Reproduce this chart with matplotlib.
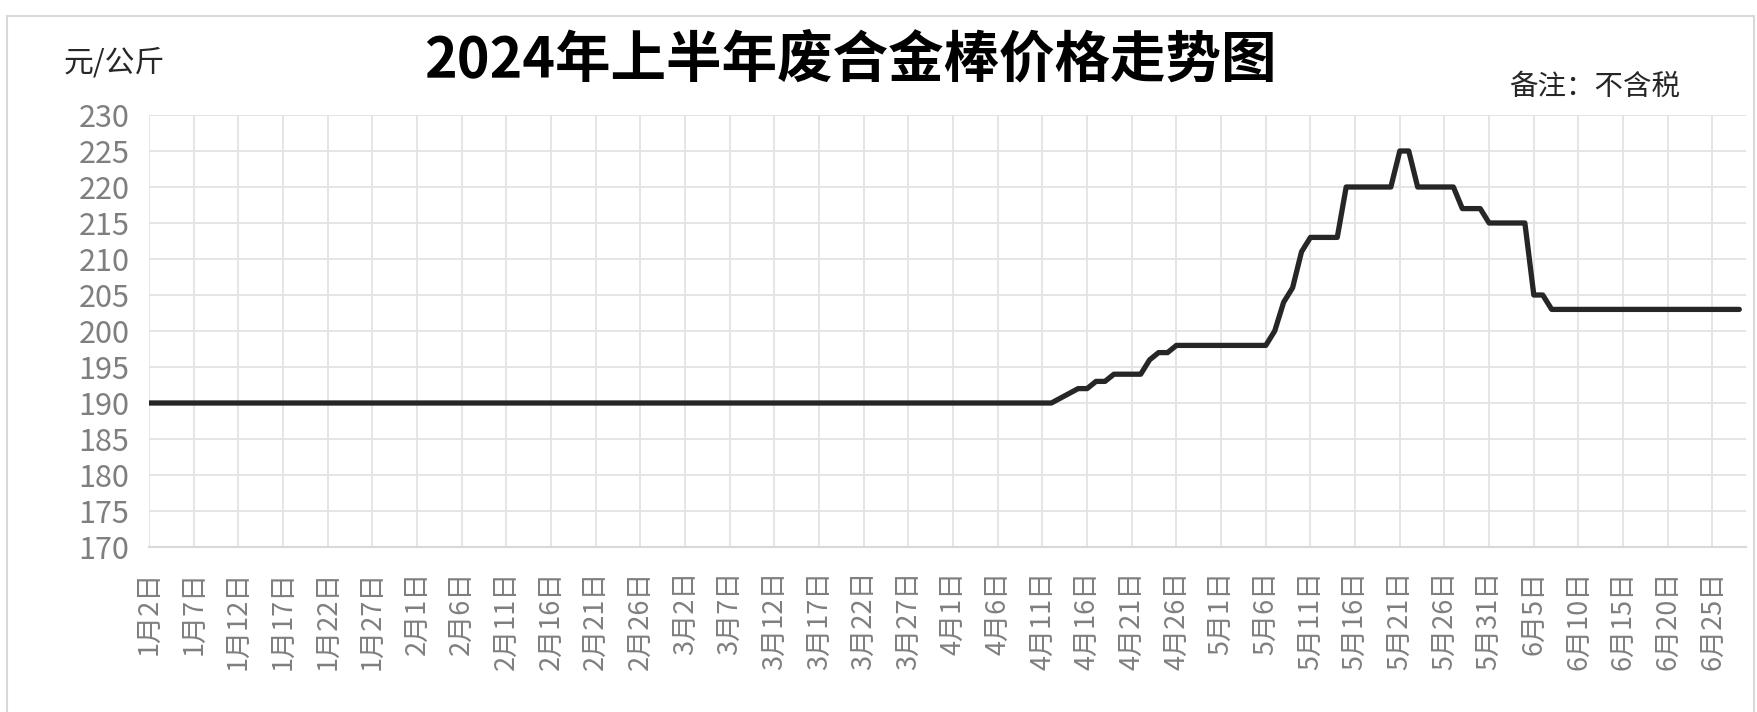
import matplotlib
matplotlib.use("Agg")
import matplotlib.pyplot as plt
import pandas as pd
from matplotlib.lines import Line2D

plt.rcParams['font.family'] = ['Noto Sans CJK SC', 'DejaVu Sans']

# 价格数据（拐点）
dates = ["2024-01-02", "2024-04-12", "2024-04-15", "2024-04-16", "2024-04-17",
         "2024-04-18", "2024-04-19", "2024-04-22", "2024-04-23", "2024-04-24",
         "2024-04-25", "2024-04-26", "2024-05-06", "2024-05-07", "2024-05-08",
         "2024-05-09", "2024-05-10", "2024-05-11", "2024-05-14", "2024-05-15",
         "2024-05-20", "2024-05-21", "2024-05-22", "2024-05-23", "2024-05-27",
         "2024-05-28", "2024-05-30", "2024-05-31", "2024-06-04", "2024-06-05",
         "2024-06-06", "2024-06-07", "2024-06-28"]
prices = [190, 190, 192, 192, 193,
          193, 194, 194, 196, 197,
          197, 198, 198, 200, 204,
          206, 211, 213, 213, 220,
          220, 225, 225, 220, 220,
          217, 217, 215, 215, 205,
          205, 203, 203]

title = "2024年上半年废合金棒价格走势图"
unit = "元/公斤"
note = "备注：不含税"

x = pd.to_datetime(dates)
tick_dates = pd.date_range("2024-01-02", "2024-06-25", freq="5D")
tick_labels = [f"{d.month}月{d.day}日" for d in tick_dates]

fig = plt.figure(figsize=(17.57, 7.12), dpi=100)
ax = fig.add_axes([149 / 1757, 1 - 547 / 712, (1746 - 149) / 1757, (547 - 115) / 712])

ax.plot(x, prices, color='#262626', linewidth=3.8, solid_joinstyle='round',
        solid_capstyle='round', zorder=3)

ax.set_ylim(170, 230)
ax.set_yticks(range(170, 231, 5))
ax.set_xlim(pd.Timestamp("2024-01-02"), pd.Timestamp("2024-06-28") + pd.Timedelta(hours=18))
ax.set_xticks(tick_dates)
ax.set_xticklabels(tick_labels, rotation=90, va='top', ha='center')

ax.grid(True, color='#e3e3e3', linewidth=1.3)
ax.set_axisbelow(True)
for s in ['left', 'right', 'top']:
    ax.spines[s].set_visible(False)
ax.spines['bottom'].set_color('#d9d9d9')
ax.spines['bottom'].set_linewidth(1.5)
ax.tick_params(axis='both', length=0, colors='#7f7f7f')
ax.tick_params(axis='y', labelsize=22, pad=14)
ax.tick_params(axis='x', labelsize=19.5, pad=17)

fig.text(0.484, 0.915, title, ha='center', va='center', fontsize=40,
         fontweight='bold', color='black')
fig.text(64 / 1757, 1 - 63 / 712, unit, ha='left', va='center', fontsize=21.5, color='#262626')
fig.text(1680 / 1757, 1 - 87 / 712, note, ha='right', va='center', fontsize=20.5, color='#262626')

# 外框
border_color = '#d9d9d9'
fig.add_artist(Line2D([7 / 1757, 7 / 1757], [0, 1 - 16 / 712], transform=fig.transFigure,
                      color=border_color, linewidth=1.5))
fig.add_artist(Line2D([7 / 1757, 1754 / 1757], [1 - 16 / 712, 1 - 16 / 712],
                      transform=fig.transFigure, color=border_color, linewidth=1.5))
fig.add_artist(Line2D([1754 / 1757, 1754 / 1757], [0, 1 - 16 / 712], transform=fig.transFigure,
                      color=border_color, linewidth=1.5))

fig.savefig("out.png", dpi=100)
